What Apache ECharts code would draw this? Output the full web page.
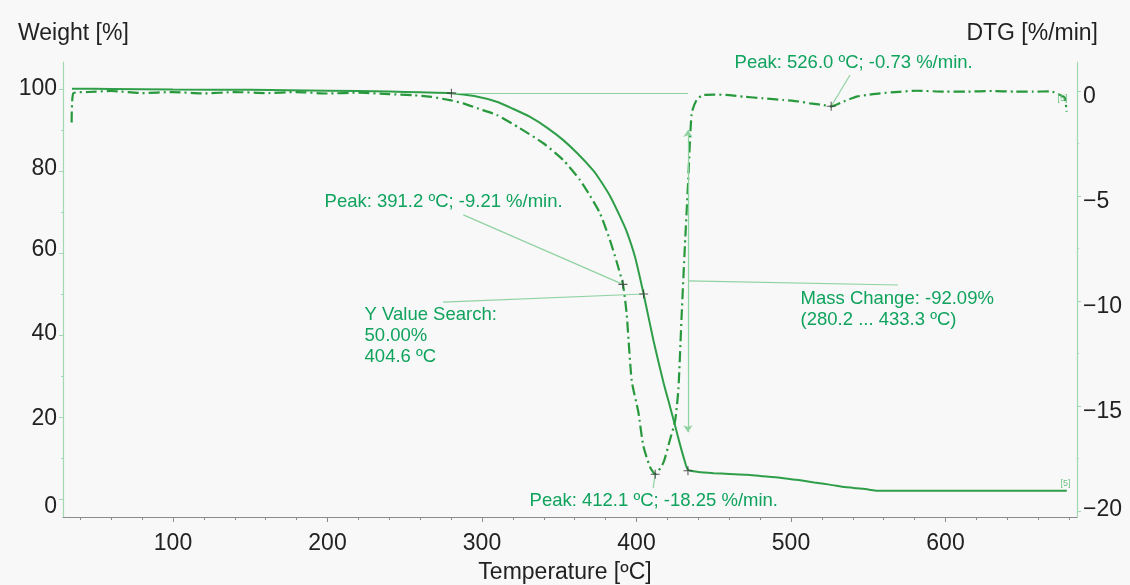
<!DOCTYPE html>
<html>
<head>
<meta charset="utf-8">
<script src="https://cdn.jsdelivr.net/npm/echarts@6/dist/echarts.min.js"></script>
<style>
  html, body { margin: 0; padding: 0; background: #f8f8f8; }
  #chart { width: 1130px; height: 585px; }
</style>
</head>
<body>
<div id="chart"></div>
<script>
// TG curve: residual weight [%] against temperature [ºC]
const weightTemp = [34.6, 60, 100, 150, 200, 240, 260, 280.2, 295, 309.5, 320, 331.1, 342, 352.4, 362, 371.8, 376.4, 383, 389, 393.6, 399, 404.6, 411, 417.4, 421.7, 424.9, 428, 431, 433.3, 440, 450, 460, 471.3, 480, 492.9, 505, 515, 525, 535, 542.5, 550, 555.5, 565, 580, 600, 620, 640, 660, 678.5];
const weightPct  = [100.1, 100.0, 99.9, 99.8, 99.6, 99.4, 99.2, 99.0, 98.3, 96.9, 95.2, 93.2, 90.6, 87.6, 84.2, 80.2, 77.8, 73.8, 69.2, 65.3, 59.1, 50.0, 38.6, 28.5, 22.5, 18.0, 13.5, 9.5, 7.1, 6.6, 6.3, 6.1, 5.9, 5.6, 5.2, 4.6, 4.0, 3.5, 2.9, 2.6, 2.3, 2.0, 2.0, 2.0, 2.0, 2.0, 2.0, 2.0, 2.0];

// DTG curve: rate of weight change [%/min]
const dtgTemp = [34.4, 35.5, 45, 60, 80, 100, 120, 140, 160, 180, 200, 220, 240, 255, 266.3, 280, 287.9, 298, 309.5, 324.6, 339.7, 352.6, 363.4, 370, 376.4, 382.8, 387, 391.2, 393.6, 396.9, 401.2, 404.4, 408.7, 412.1, 417.4, 421.7, 425, 427.1, 429.2, 431.3, 433.5, 435.7, 438.9, 443.2, 450, 460, 469.1, 482, 495, 505, 512.3, 520, 526, 534, 542.5, 550, 557.6, 570, 581.3, 600, 613.7, 630, 645, 656.9, 668, 674.1, 677, 678.4];
const dtgRate = [-1.5, -0.1, -0.05, 0.0, -0.1, -0.05, -0.12, -0.05, -0.1, -0.05, -0.12, -0.08, -0.15, -0.2, -0.27, -0.45, -0.59, -0.85, -1.14, -1.78, -2.49, -3.29, -4.24, -5.0, -5.83, -7.1, -8.1, -9.21, -10.6, -13.8, -15.3, -16.9, -17.9, -18.25, -17.7, -16.6, -15.7, -14.2, -10.7, -7.4, -4.2, -1.06, -0.43, -0.19, -0.17, -0.2, -0.27, -0.35, -0.43, -0.5, -0.59, -0.66, -0.73, -0.5, -0.27, -0.18, -0.11, -0.04, 0.01, -0.03, -0.03, 0.0, -0.03, -0.03, -0.02, -0.19, -0.3, -0.98];

// Tick values
const xTickLabels = [100, 200, 300, 400, 500, 600];
const xMinorTicks = [40, 60, 80, 120, 140, 160, 180, 220, 240, 260, 280, 320, 340, 360, 380, 420, 440, 460, 480, 520, 540, 560, 580, 620, 640, 660, 680];
const weightTickLabels = [0, 20, 40, 60, 80, 100];
const weightMinorTicks = [10, 30, 50, 70, 90];
const dtgTickLabels = [0, -5, -10, -15, -20];
const dtgMinorTicks = [-2.5, -7.5, -12.5, -17.5];

// Evaluated points: onset / half-weight / end of step on TG, peaks on DTG
const weightPoints = [[280.2, 99.0], [404.6, 50.0], [433.3, 6.9]];
const dtgPeaks = [[391.2, -9.21], [412.1, -18.25], [526.0, -0.73]];

const FONT = '"Liberation Sans", Arial, sans-serif';
const DARK = '#222222';
const NOTE = '#0fa35d';
const LEADER = '#8fd2a1';
const AXIS_GREEN = '#a3d9b1';

const zip = (xs, ys) => xs.map((x, i) => [x, ys[i]]);
const minus = v => String(v).replace('-', '\u2212');

// vertical nudges (px) for the tick labels of each y axis
const weightLabelShift = { 0: 8, 20: 2, 40: -1, 60: -3, 80: -2, 100: 0 };
const dtgLabelShift = { 0: 6, '-5': 6, '-10': 6, '-15': 6, '-20': -1 };

function shiftedLabels(shifts) {
  const rich = {};
  Object.keys(shifts).forEach((k, i) => {
    const s = shifts[k];
    rich['s' + i] = {
      fontSize: 23, fontFamily: FONT, color: DARK,
      padding: s >= 0 ? [2 * s, 0, 0, 0] : [0, 0, -2 * s, 0]
    };
  });
  const keys = Object.keys(shifts);
  return {
    rich: rich,
    formatter: v => {
      const i = keys.indexOf(String(v));
      return '{s' + i + '|' + minus(v) + '}';
    }
  };
}

const chart = echarts.init(document.getElementById('chart'), null, { renderer: 'canvas' });

const crossSymbol = 'path://M4.4,0H5.6V10H4.4ZM0,4.4H10V5.6H0Z';

function noteLabel(text, coord, size, color) {
  return {
    coord: coord,
    symbol: 'circle',
    symbolSize: 1,
    itemStyle: { color: 'transparent' },
    label: {
      show: true,
      formatter: text,
      position: [0, 0],
      align: 'left',
      verticalAlign: 'middle',
      fontFamily: FONT,
      fontSize: size || 18.5,
      lineHeight: size ? size + 2 : 21,
      color: color || NOTE
    }
  };
}

function leader(a, b, arrows) {
  return [
    { coord: a, symbol: arrows ? 'arrow' : 'none' },
    { coord: b, symbol: arrows ? 'arrow' : 'none' }
  ];
}

const xMin = 28.8, xMax = 685.1;
const wMin = -4.4, wMax = 106.6;
const dMin = -20.29, dMax = 1.38;

const wLabels = shiftedLabels(weightLabelShift);
const dLabels = shiftedLabels(dtgLabelShift);

const option = {
  animation: false,
  backgroundColor: '#f8f8f8',
  grid: { left: 63, right: 53, top: 62, bottom: 68, containLabel: false },
  xAxis: [
    {
      type: 'value', min: xMin, max: xMax, position: 'bottom',
      axisLine: { show: true, onZero: false, lineStyle: { color: '#8c8c8c', width: 1 } },
      axisTick: { show: true, customValues: xTickLabels, length: 5, lineStyle: { color: '#8c8c8c' } },
      axisLabel: { customValues: xTickLabels, margin: 15, fontSize: 23, color: DARK, fontFamily: FONT },
      splitLine: { show: false }
    },
    {
      type: 'value', min: xMin, max: xMax, position: 'bottom', offset: 0,
      axisLine: { show: false, onZero: false },
      axisTick: { show: true, customValues: xMinorTicks, length: 3, lineStyle: { color: '#8c8c8c' } },
      axisLabel: { show: false },
      splitLine: { show: false }
    }
  ],
  yAxis: [
    {
      type: 'value', position: 'left', min: wMin, max: wMax,
      axisLine: { show: true, onZero: false, lineStyle: { color: AXIS_GREEN, width: 1.2 } },
      axisTick: { show: true, customValues: weightTickLabels, length: 4, lineStyle: { color: AXIS_GREEN } },
      axisLabel: { customValues: weightTickLabels, margin: 6, fontSize: 23, color: DARK, fontFamily: FONT, formatter: wLabels.formatter, rich: wLabels.rich },
      splitLine: { show: false }
    },
    {
      type: 'value', position: 'right', min: dMin, max: dMax,
      axisLine: { show: true, onZero: false, lineStyle: { color: AXIS_GREEN, width: 1.2 } },
      axisTick: { show: true, customValues: dtgTickLabels, length: 4, lineStyle: { color: AXIS_GREEN } },
      axisLabel: { customValues: dtgTickLabels, margin: 6, fontSize: 23, color: DARK, fontFamily: FONT, formatter: dLabels.formatter, rich: dLabels.rich },
      splitLine: { show: false }
    },
    {
      type: 'value', position: 'left', offset: 0, min: wMin, max: wMax,
      axisLine: { show: false, onZero: false },
      axisTick: { show: true, customValues: weightMinorTicks, length: 2, lineStyle: { color: AXIS_GREEN } },
      axisLabel: { show: false },
      splitLine: { show: false }
    },
    {
      type: 'value', position: 'right', offset: 0, min: dMin, max: dMax,
      axisLine: { show: false, onZero: false },
      axisTick: { show: true, customValues: dtgMinorTicks, length: 2, lineStyle: { color: AXIS_GREEN } },
      axisLabel: { show: false },
      splitLine: { show: false }
    }
  ],
  graphic: [
    { type: 'text', left: 18, top: 22, style: { text: 'Weight [%]', font: '23px ' + FONT, fill: DARK } },
    { type: 'text', right: 32, top: 22, style: { text: 'DTG [%/min]', font: '23px ' + FONT, fill: DARK } },
    { type: 'text', left: 'center', top: 561, style: { text: 'Temperature [ºC]', font: '23px ' + FONT, fill: DARK } }
  ],
  series: [
    {
      name: 'Weight', type: 'line', xAxisIndex: 0, yAxisIndex: 0,
      data: zip(weightTemp, weightPct),
      showSymbol: false, smooth: 0.2,
      lineStyle: { color: '#2f9e48', width: 2 },
      z: 3,
      markLine: {
        silent: true, symbolSize: 7, animation: false,
        label: { show: false },
        lineStyle: { color: LEADER, width: 1.2, type: 'solid' },
        data: [
          leader([280.2, 99.0], [433.3, 99.0]),
          leader([433.3, 90.0], [433.3, 16.3], true),
          leader([433.3, 53.2], [569.3, 52.2]),
          leader([274.8, 48.0], [404.6, 50.0])
        ]
      },
      markPoint: {
        silent: true, animation: false,
        data: [
          noteLabel('Y Value Search:\n50.00%\n404.6 ºC', [224.3, 39.6]),
          noteLabel('Mass Change: -92.09%\n(280.2 ... 433.3 ºC)', [506.5, 46.2]),
          noteLabel('[5]', [674.8, 3.7], 9, '#6cc080')
        ]
      }
    },
    {
      name: 'DTG', type: 'line', xAxisIndex: 0, yAxisIndex: 1,
      data: zip(dtgTemp, dtgRate),
      showSymbol: false, smooth: 0.2,
      lineStyle: { color: '#27993c', width: 2.2, type: [11, 4, 2, 4] },
      z: 3,
      markLine: {
        silent: true, symbolSize: 7, animation: false,
        label: { show: false },
        lineStyle: { color: LEADER, width: 1.2, type: 'solid' },
        data: [
          leader([538.2, 0.76], [526.0, -0.73]),
          leader([287.9, -5.9], [391.2, -9.21]),
          leader([410.8, -18.9], [412.1, -18.25])
        ]
      },
      markPoint: {
        silent: true, animation: false,
        data: [
          noteLabel('Peak: 526.0 ºC; -0.73 %/min.', [463.8, 1.29]),
          noteLabel('Peak: 391.2 ºC; -9.21 %/min.', [198.4, -5.29]),
          noteLabel('Peak: 412.1 ºC; -18.25 %/min.', [331.1, -19.57]),
          noteLabel('[5]', [672.8, -0.38], 9, '#6cc080')
        ]
      }
    },
    {
      name: 'Weight points', type: 'scatter', xAxisIndex: 0, yAxisIndex: 0,
      data: weightPoints, symbol: crossSymbol, symbolSize: 9,
      itemStyle: { color: '#333333' }, z: 5, silent: true
    },
    {
      name: 'DTG peaks', type: 'scatter', xAxisIndex: 0, yAxisIndex: 1,
      data: dtgPeaks, symbol: crossSymbol, symbolSize: 9,
      itemStyle: { color: '#333333' }, z: 5, silent: true
    }
  ]
};

chart.setOption(option);
</script>
</body>
</html>
